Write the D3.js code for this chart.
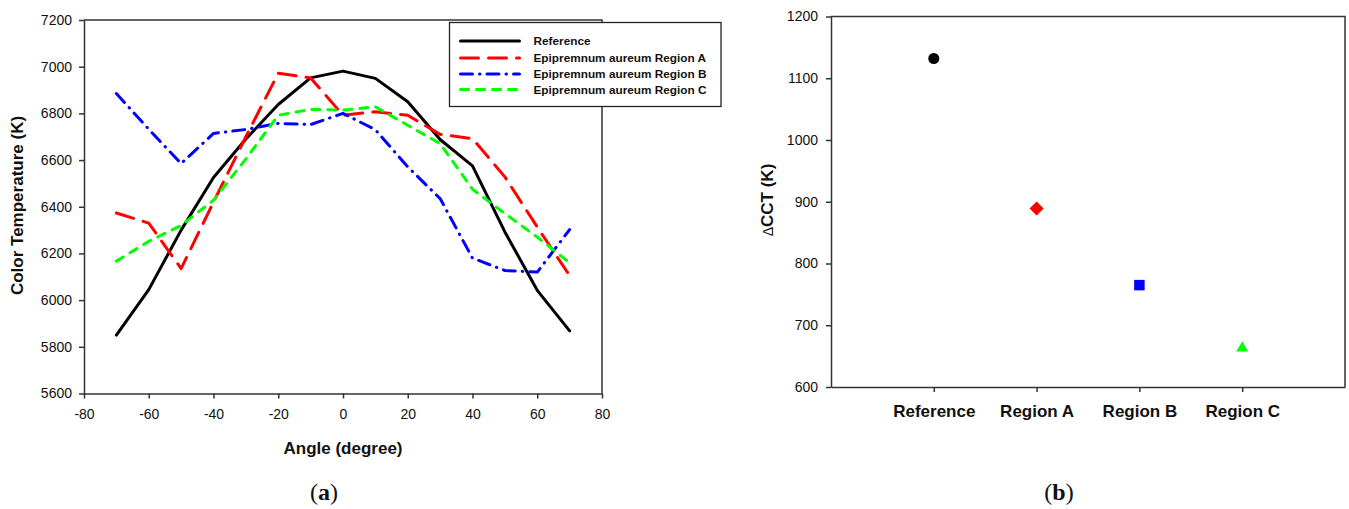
<!DOCTYPE html>
<html>
<head>
<meta charset="utf-8">
<script src="https://cdn.jsdelivr.net/npm/d3@7"></script>
<style>
  body { margin: 0; background: #fff; }
  svg { font-family: "Liberation Sans", Arial, sans-serif; }
  .axis path, .axis line { stroke: #333; stroke-width: 1.5px; }
  .axis text { font-size: 14px; fill: #111; }
  .axisTitle { font-size: 17px; font-weight: bold; fill: #111; }
  .legendText { font-size: 11.8px; font-weight: bold; fill: #111; }
  .panel { font-family: "Liberation Serif", "Times New Roman", serif; font-size: 24px; fill: #111; }
</style>
</head>
<body>
<script>
// Data, panel (a): colour temperature vs angle
var angles = [-70, -60, -50, -40, -30, -20, -10, 0, 10, 20, 30, 40, 50, 60, 70];
var reference = [5850, 6045, 6300, 6525, 6690, 6838, 6952, 6981, 6950, 6850, 6688, 6575, 6292, 6042, 5868];
var regionA = [6373, 6330, 6135, 6420, 6700, 6972, 6952, 6792, 6807, 6792, 6710, 6692, 6528, 6313, 6105];
var regionB = [6885, 6732, 6585, 6714, 6731, 6757, 6752, 6800, 6730, 6571, 6435, 6180, 6127, 6120, 6302];
var regionC = [6167, 6252, 6320, 6428, 6605, 6792, 6817, 6814, 6828, 6749, 6671, 6475, 6371, 6270, 6160];
var seriesNames = ["Reference", "Epipremnum aureum Region A", "Epipremnum aureum Region B", "Epipremnum aureum Region C"];
var xTicksA = [-80, -60, -40, -20, 0, 20, 40, 60, 80];
var yTicksA = [5600, 5800, 6000, 6200, 6400, 6600, 6800, 7000, 7200];

// Data, panel (b): delta CCT per region
var categories = ["Reference", "Region A", "Region B", "Region C"];
var dcct = [1132, 889, 765, 663];
var yTicksB = [600, 700, 800, 900, 1000, 1100, 1200];

var plain = d => String(d);

var svg = d3.select("body")
  .append("svg")
  .attr("width", 1349)
  .attr("height", 509);

// ---------- Panel (a) ----------
var xA = d3.scaleLinear().domain([-80, 80]).range([84, 602]);
var yA = d3.scaleLinear().domain([5600, 7200]).range([393.5, 20]);

var gA = svg.append("g");

gA.append("g")
  .attr("class", "axis")
  .attr("transform", "translate(0,393.5)")
  .call(d3.axisBottom(xA).tickValues(xTicksA).tickFormat(plain).tickSize(5).tickPadding(11).tickSizeOuter(0));

gA.append("g")
  .attr("class", "axis")
  .attr("transform", "translate(84,0)")
  .call(d3.axisLeft(yA).tickValues(yTicksA).tickFormat(plain).tickSize(5).tickPadding(7).tickSizeOuter(0));

// top and right frame
gA.append("path")
  .attr("d", `M${xA(-80)},${yA(7200)}H${xA(80)}V${yA(5600)}`)
  .attr("fill", "none")
  .attr("stroke", "#333")
  .attr("stroke-width", 1.5);

var series = [
  { values: reference, color: "#000000", dash: null },
  { values: regionA, color: "#ff0000", dash: "18,10" },
  { values: regionB, color: "#0000ff", dash: "12,7,0.5,7" },
  { values: regionC, color: "#00ff00", dash: "8,8" }
];

var line = d3.line()
  .x((d, i) => xA(angles[i]))
  .y(d => yA(d));

gA.selectAll(".series")
  .data(series)
  .enter()
  .append("path")
  .attr("class", "series")
  .attr("d", d => line(d.values))
  .attr("fill", "none")
  .attr("stroke", d => d.color)
  .attr("stroke-width", 3)
  .attr("stroke-linecap", "round")
  .attr("stroke-linejoin", "round")
  .attr("stroke-dasharray", d => d.dash);

// legend
var legend = gA.append("g").attr("transform", "translate(449.5,22.5)");
legend.append("rect")
  .attr("width", 271.5)
  .attr("height", 84)
  .attr("fill", "#fff")
  .attr("stroke", "#222")
  .attr("stroke-width", 1.3);

var rows = legend.selectAll(".row")
  .data(series)
  .enter()
  .append("g")
  .attr("transform", (d, i) => `translate(0,${[18.5, 35.5, 51.5, 67][i]})`);

rows.append("line")
  .attr("x1", 11).attr("x2", 70)
  .attr("stroke", d => d.color)
  .attr("stroke-width", 3)
  .attr("stroke-linecap", "round")
  .attr("stroke-dasharray", d => d.dash);

rows.append("text")
  .attr("class", "legendText")
  .attr("x", 84)
  .attr("y", 4)
  .text((d, i) => seriesNames[i]);

// axis titles
gA.append("text")
  .attr("class", "axisTitle")
  .attr("text-anchor", "middle")
  .attr("x", xA(0))
  .attr("y", 454)
  .text("Angle (degree)");

gA.append("text")
  .attr("class", "axisTitle")
  .attr("text-anchor", "middle")
  .attr("transform", "translate(23,205.5) rotate(-90)")
  .text("Color Temperature (K)");

var labA = gA.append("text").attr("class", "panel").attr("text-anchor", "middle").attr("x", 324).attr("y", 500);
labA.append("tspan").text("(");
labA.append("tspan").attr("font-weight", "bold").text("a");
labA.append("tspan").text(")");

// ---------- Panel (b) ----------
var xB = d3.scalePoint().domain(categories).range([831, 1345]).padding(1);
var yB = d3.scaleLinear().domain([600, 1200]).range([387, 16.5]);

var gB = svg.append("g");

gB.append("g")
  .attr("class", "axis")
  .attr("transform", "translate(0,387)")
  .call(d3.axisBottom(xB).tickSize(5).tickPadding(13).tickSizeOuter(0))
  .selectAll("text")
  .style("font-size", "17px")
  .style("font-weight", "bold");

gB.append("g")
  .attr("class", "axis")
  .attr("transform", "translate(831,0)")
  .call(d3.axisLeft(yB).tickValues(yTicksB).tickFormat(plain).tickSize(5).tickPadding(8).tickSizeOuter(0));

gB.append("path")
  .attr("d", `M831,${yB(1200)}H1345V${yB(600)}`)
  .attr("fill", "none")
  .attr("stroke", "#333")
  .attr("stroke-width", 1.5);

var markers = [
  { type: d3.symbolCircle, size: 95, color: "#000000", rotate: 0 },
  { type: d3.symbolSquare, size: 100, color: "#ff0000", rotate: 45 },
  { type: d3.symbolSquare, size: 110, color: "#0000ff", rotate: 0 },
  { type: d3.symbolTriangle, size: 62, color: "#00ff00", rotate: 0 }
];

gB.selectAll(".marker")
  .data(dcct)
  .enter()
  .append("path")
  .attr("class", "marker")
  .attr("d", (d, i) => d3.symbol().type(markers[i].type).size(markers[i].size)())
  .attr("fill", (d, i) => markers[i].color)
  .attr("transform", (d, i) => `translate(${xB(categories[i])},${yB(d)}) rotate(${markers[i].rotate})`);

var yTitleB = gB.append("text")
  .attr("class", "axisTitle")
  .attr("text-anchor", "middle")
  .attr("transform", "translate(773,200) rotate(-90)");
yTitleB.append("tspan").attr("font-weight", "normal").attr("font-size", "14px").text("\u0394");
yTitleB.append("tspan").text("CCT (K)");

var labB = gB.append("text").attr("class", "panel").attr("text-anchor", "middle").attr("x", 1059).attr("y", 500);
labB.append("tspan").text("(");
labB.append("tspan").attr("font-weight", "bold").text("b");
labB.append("tspan").text(")");
</script>
</body>
</html>
